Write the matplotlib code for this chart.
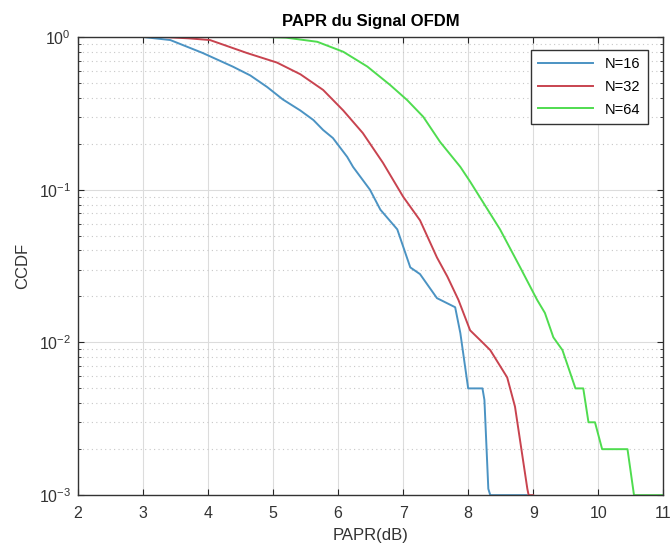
import numpy as np
import matplotlib.pyplot as plt
from matplotlib.ticker import LogLocator, NullFormatter

plt.rcParams['font.family'] = ['Liberation Sans', 'DejaVu Sans']

# CCDF curves
papr_16 = [2.0, 3.0, 3.42, 3.92, 4.38, 4.65, 4.91, 5.15, 5.42, 5.62, 5.77, 5.92,
           6.14, 6.23, 6.49, 6.65, 6.91, 7.11, 7.26, 7.52, 7.80, 7.88, 8.0, 8.22,
           8.25, 8.31, 8.34, 8.9]
ccdf_16 = [1.0, 1.0, 0.955, 0.785, 0.64, 0.56, 0.47, 0.39, 0.33, 0.286, 0.246, 0.218,
           0.164, 0.141, 0.10, 0.074, 0.055, 0.031, 0.028, 0.0195, 0.017, 0.0115, 0.005, 0.005,
           0.0042, 0.0011, 0.001, 0.001]

papr_32 = [2.75, 3.3, 3.7, 4.03, 4.6, 5.06, 5.42, 5.77, 6.08, 6.38, 6.69, 7.0,
           7.26, 7.52, 7.68, 7.85, 8.03, 8.2, 8.34, 8.6, 8.72, 8.91, 8.93, 9.0]
ccdf_32 = [1.0, 1.0, 0.98, 0.955, 0.785, 0.68, 0.57, 0.45, 0.33, 0.235, 0.15, 0.09,
           0.063, 0.036, 0.027, 0.019, 0.012, 0.0102, 0.0089, 0.0059, 0.0038, 0.0011, 0.001, 0.001]

papr_64 = [4.0, 4.9, 5.2, 5.68, 6.08, 6.45, 6.8, 7.06, 7.31, 7.57, 7.88, 8.03,
           8.49, 8.8, 9.06, 9.18, 9.31, 9.45, 9.65, 9.77, 9.85, 9.95, 10.06, 10.45,
           10.55, 11.0]
ccdf_64 = [1.0, 1.0, 0.99, 0.93, 0.80, 0.64, 0.485, 0.387, 0.30, 0.205, 0.141, 0.113,
           0.055, 0.031, 0.019, 0.0156, 0.0108, 0.0089, 0.005, 0.005, 0.003, 0.003, 0.002, 0.002,
           0.001, 0.001]

labels = ['N=16', 'N=32', 'N=64']
colors = ['#4b93c3', '#c8434f', '#4fdc4f']

fig = plt.figure(figsize=(6.72, 5.52), dpi=100)
ax = fig.add_axes([0.116, 0.103, 0.871, 0.830])

for x, y, lab, c in zip([papr_16, papr_32, papr_64], [ccdf_16, ccdf_32, ccdf_64], labels, colors):
    ax.semilogy(x, y, color=c, lw=1.4, label=lab)

ax.set_xlim(2, 11)
ax.set_ylim(1e-3, 1)
ax.set_xticks(range(2, 12))
ax.yaxis.set_major_locator(LogLocator(base=10))
ax.yaxis.set_minor_locator(LogLocator(base=10, subs=np.arange(2, 10)))
ax.yaxis.set_minor_formatter(NullFormatter())

ax.grid(True, which='major', color='#dcdcdc', lw=0.8, ls='-')
ax.grid(True, which='minor', axis='y', color='#c8c8c8', lw=0.8, ls=(0, (1, 3)))
ax.set_axisbelow(True)

ax.tick_params(which='both', direction='in', top=True, right=True, colors='#262626',
               labelcolor='#333333', labelsize=11.5)
ax.tick_params(axis='x', pad=8)
ax.tick_params(axis='y', pad=5)
ax.tick_params(which='major', length=4)
ax.tick_params(which='minor', length=2)
for s in ax.spines.values():
    s.set_color('#333333')
    s.set_linewidth(1.0)

ax.set_xlabel('PAPR(dB)', fontsize=12, color='#333333', labelpad=5)
ax.set_ylabel('CCDF', fontsize=12, color='#333333', labelpad=6)
ax.set_title('PAPR du Signal OFDM', fontsize=12, fontweight='bold', pad=8)

leg = ax.legend(loc='upper right', bbox_to_anchor=(0.986, 0.988), fontsize=10.5,
                fancybox=False, framealpha=1, edgecolor='#333333',
                handlelength=3.8, borderpad=0.5, labelspacing=0.6)
leg.get_frame().set_linewidth(1.0)

fig.savefig('out.png', dpi=100)
